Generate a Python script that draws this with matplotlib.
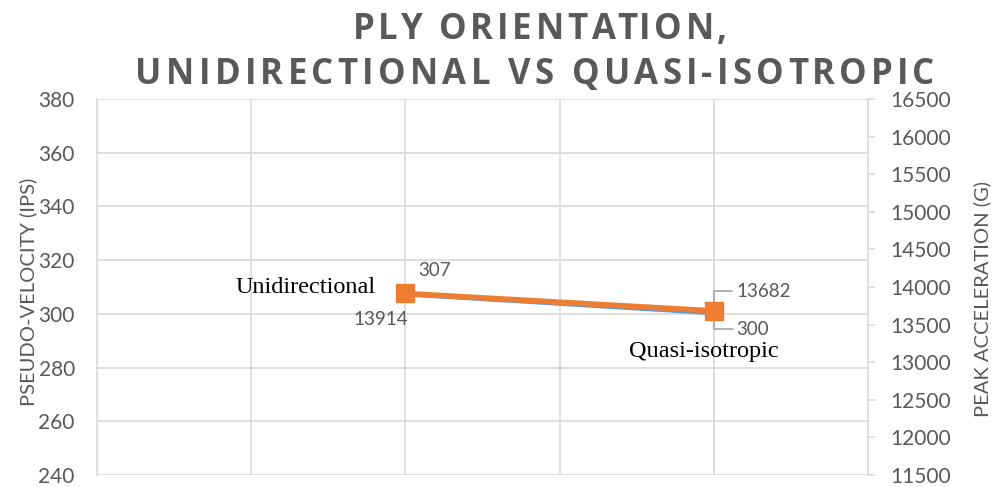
import matplotlib.pyplot as plt

# data
positions = [1, 2]
names = ["Unidirectional", "Quasi-isotropic"]
velocity = [307, 300]
accel = [13914, 13682]

gray = "#595959"
grid = "#D9D9D9"
blue = "#5B9BD5"
orange = "#ED7D31"

fig = plt.figure(figsize=(9.94, 4.87), dpi=100)
ax = fig.add_axes([97 / 994, 1 - 475 / 487, 771 / 994, 376 / 487])
ax2 = ax.twinx()

ax.set_xlim(0, 2.5)
ax.set_ylim(240, 380)
ax.set_yticks(range(240, 381, 20))
ax.set_xticks([0.5, 1.0, 1.5, 2.0])
ax.tick_params(axis="x", length=0, labelbottom=False)
ax.tick_params(axis="y", length=0, labelsize=15, labelcolor=gray, pad=16)
ax.grid(True, color=grid, linewidth=1.2)
ax.set_axisbelow(True)
for s in ["top", "bottom", "right"]:
    ax.spines[s].set_visible(False)
ax.spines["left"].set_color(grid)
ax.spines["left"].set_linewidth(1.2)

ax2.set_ylim(11500, 16500)
ax2.set_yticks(range(11500, 16501, 500))
ax2.tick_params(axis="y", length=5, color=grid, width=1.2, labelsize=15, labelcolor=gray, pad=11)
for s in ["top", "bottom", "left"]:
    ax2.spines[s].set_visible(False)
ax2.spines["right"].set_color(grid)
ax2.spines["right"].set_linewidth(1.2)

for a in (ax, ax2):
    for lab in a.get_yticklabels():
        lab.set_fontfamily("Lato")

ax.plot(positions, velocity, color=blue, linewidth=2, zorder=3)
ax2.plot(positions, accel, color=orange, linewidth=4, marker="s", markersize=13, zorder=4)

ax.set_ylabel("PSEUDO-VELOCITY (IPS)", fontsize=14.5, color=gray, fontfamily="Lato")
ax.yaxis.set_label_coords(-0.078, 0.488)
ax2.set_ylabel("PEAK ACCELERATION (G)", fontsize=14.5, color=gray, fontfamily="Lato")
ax2.yaxis.set_label_coords(1.136, 0.467)

# data labels
lab_kw = dict(textcoords="offset points", fontsize=13.5, color=gray, fontfamily="Lato")
lead = dict(arrowstyle="-", color="#A6A6A6", lw=1.2, shrinkA=1, shrinkB=4)
ax.annotate(str(velocity[0]), (positions[0], velocity[0]), xytext=(9, 18),
            ha="left", va="center", **lab_kw)
ax2.annotate(str(accel[0]), (positions[0], accel[0]), xytext=(-18, -19),
             ha="center", va="center", **lab_kw)
ax2.annotate(str(accel[1]), (positions[1], accel[1]), xytext=(16, 14),
             ha="left", va="center", **lab_kw,
             arrowprops=dict(connectionstyle="angle,angleA=0,angleB=90", **lead))
ax.annotate(str(velocity[1]), (positions[1], velocity[1]), xytext=(16.5, -11),
            ha="left", va="center", **lab_kw,
            arrowprops=dict(connectionstyle="angle,angleA=0,angleB=-90", **lead))

# category names
name_kw = dict(textcoords="offset points", fontsize=17.5, fontfamily="Liberation Serif", color="black")
ax.annotate(names[0], (positions[0], velocity[0]), xytext=(-21.6, 5.8), ha="right", va="center", **name_kw)
ax.annotate(names[1], (positions[1], velocity[1]), xytext=(-7, -27), ha="center", va="center", **name_kw)


# title with the wide letter spacing of the original
def spaced_title(s, xc, yc, spacing):
    r = fig.canvas.get_renderer()
    kw = dict(fontsize=25, fontweight="bold", fontfamily="Open Sans", color=gray, va="center")

    def width(t):
        tt = fig.text(0, 0, t + "|", **kw)
        w = tt.get_window_extent(r).width
        tt.remove()
        return w

    bar = width("")
    offs = [width(s[:i]) - bar + i * spacing for i in range(len(s) + 1)]
    total = offs[-1] - spacing
    x0 = xc - total / 2
    for i, ch in enumerate(s):
        fig.text((x0 + offs[i]) / 994, 1 - yc / 487, ch, ha="left", **kw)


spaced_title("PLY ORIENTATION,", 540, 30, 3.8)
spaced_title("UNIDIRECTIONAL VS QUASI-ISOTROPIC", 535, 75, 4.3)

fig.savefig("out.png", dpi=100)
